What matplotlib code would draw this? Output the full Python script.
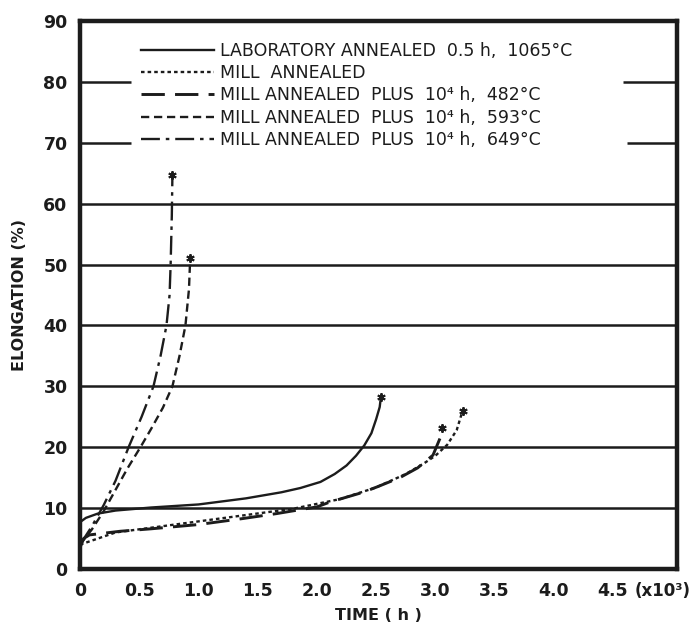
import matplotlib
matplotlib.use("Agg")
import matplotlib.pyplot as plt
import numpy as np

# Creep curves: elongation (%) vs time (time in units of 10^3 h)
lab_time = [0, 0.05, 0.15, 0.3, 0.6, 1.0, 1.4, 1.7, 1.86, 2.03, 2.15, 2.25, 2.33, 2.40, 2.46, 2.50, 2.53, 2.54]
lab_elong = [7.7, 8.4, 9.1, 9.6, 10.1, 10.6, 11.6, 12.6, 13.3, 14.3, 15.6, 17.0, 18.6, 20.3, 22.3, 24.6, 26.6, 28.2]

mill_time = [0, 0.3, 0.8, 1.3, 1.8, 2.2, 2.5, 2.75, 2.9, 3.0, 3.1, 3.18, 3.23]
mill_elong = [4.0, 6.0, 7.3, 8.6, 9.9, 11.5, 13.4, 15.6, 17.3, 18.6, 20.4, 22.8, 26.0]

p482_time = [0, 0.03, 0.08, 0.34, 0.6, 1.0, 1.38, 1.66, 2.0, 2.11, 2.39, 2.51, 2.7, 2.85, 2.98, 3.04, 3.06]
p482_elong = [3.5, 5.0, 5.6, 6.2, 6.6, 7.3, 8.3, 9.1, 10.2, 11.0, 12.6, 13.5, 15.0, 16.6, 18.7, 21.5, 23.2]

p593_time = [0, 0.1, 0.2, 0.3, 0.4, 0.51, 0.6, 0.7, 0.78, 0.84, 0.89, 0.92, 0.93]
p593_elong = [4.0, 6.5, 9.5, 13.0, 16.5, 20.0, 23.0, 26.5, 30.0, 35.0, 40.0, 46.0, 51.0]

p649_time = [0, 0.1, 0.2, 0.3, 0.41, 0.52, 0.62, 0.68, 0.73, 0.756, 0.765, 0.775, 0.78]
p649_elong = [4.0, 7.0, 10.5, 14.5, 20.0, 25.0, 30.0, 35.0, 40.0, 45.0, 50.0, 58.0, 64.7]

labels = [
    "LABORATORY ANNEALED  0.5 h,  1065°C",
    "MILL  ANNEALED",
    "MILL ANNEALED  PLUS  10⁴ h,  482°C",
    "MILL ANNEALED  PLUS  10⁴ h,  593°C",
    "MILL ANNEALED  PLUS  10⁴ h,  649°C",
]

xticks = [0, 0.5, 1.0, 1.5, 2.0, 2.5, 3.0, 3.5, 4.0, 4.5]
xticklabels = ["0", "0.5", "1.0", "1.5", "2.0", "2.5", "3.0", "3.5", "4.0", "4.5"]
yticks = [0, 10, 20, 30, 40, 50, 60, 70, 80, 90]

ink = "#1c1c1c"
plt.rcParams["font.family"] = ["DejaVu Sans"]

fig = plt.figure(figsize=(6.94, 6.27), dpi=100)
ax = fig.add_axes([0.1153, 0.0925, 0.8602, 0.874])

xmax = 5.04
# horizontal grid lines; the two under the legend are broken around it
for y in yticks[1:-1]:
    if y >= 70:
        ax.hlines(y, 0, 0.43, color=ink, lw=1.8, zorder=1)
        ax.hlines(y, 4.62 if y == 70 else 4.58, xmax, color=ink, lw=1.8, zorder=1)
    else:
        ax.axhline(y, color=ink, lw=1.8, zorder=1)

lw = 1.7
series = [
    (lab_time, lab_elong, dict(linestyle="-")),
    (mill_time, mill_elong, dict(linestyle=(0, (1.5, 1.3)))),
    (p482_time, p482_elong, dict(linestyle=(0, (8, 3.5)), lw=2.1)),
    (p593_time, p593_elong, dict(linestyle=(0, (3.5, 2)))),
    (p649_time, p649_elong, dict(linestyle=(0, (8, 2.5, 1.5, 2.5)))),
]
handles = []
for (t, e, style), lab in zip(series, labels):
    style = dict(style)
    width = style.pop("lw", lw)
    h, = ax.plot(t, e, color=ink, lw=width, label=lab, zorder=3, **style)
    handles.append(h)
    ax.plot(t[-1], e[-1], marker=(6, 2, 0), ms=6, mew=1.4, color=ink, zorder=4)

ax.set_xlim(0, xmax)
ax.set_ylim(0, 90)
ax.set_xticks(xticks)
ax.set_xticklabels(xticklabels)
ax.set_yticks(yticks)
ax.tick_params(length=0, labelsize=12.5, pad=9)
for lbl in ax.get_xticklabels() + ax.get_yticklabels():
    lbl.set_fontweight("bold")
    lbl.set_color(ink)

for sp in ax.spines.values():
    sp.set_linewidth(3.2)
    sp.set_color(ink)

ax.annotate("(x10³)", xy=(4.68, 0), xytext=(0, -9), textcoords="offset points",
            ha="left", va="top", fontsize=12, fontweight="bold", color=ink,
            annotation_clip=False)
ax.set_xlabel("TIME ( h )", fontsize=11.5, fontweight="bold", color=ink, labelpad=6)
ax.set_ylabel("ELONGATION (%)", fontsize=11.5, fontweight="bold", color=ink, labelpad=12)

leg = ax.legend(handles=handles, loc="upper left", bbox_to_anchor=(0.09, 0.975),
                frameon=False, fontsize=12.5, handlelength=4.2, handletextpad=0.35,
                labelspacing=0.25, borderpad=0.4, borderaxespad=0)
for txt in leg.get_texts():
    txt.set_color(ink)

fig.savefig("out.png", dpi=100, facecolor="white")
